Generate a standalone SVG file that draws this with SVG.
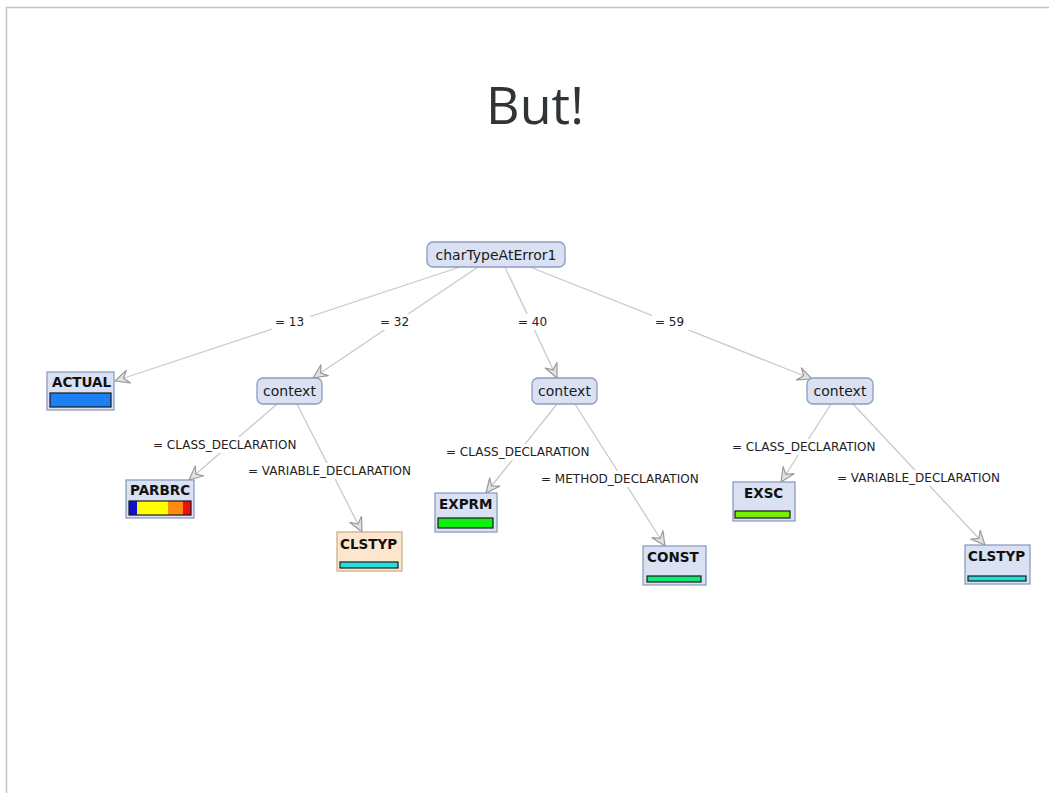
<svg xmlns="http://www.w3.org/2000/svg" width="1049" height="793" viewBox="0 0 1049 793">
<style>
.frame{fill:none;stroke:#c4c4c4;stroke-width:1.5}
.title{font-family:"Open Sans",sans-serif;font-size:52px;fill:#2f3437}
.edge{stroke:#c9c9c9;stroke-width:1.3;fill:none;marker-end:url(#arr)}
.lblbg{fill:#ffffff}
.lbl{font-family:"DejaVu Sans",sans-serif;font-size:12px;fill:#222}
.rnode{fill:#d9e1f3;stroke:#8d9cc0;stroke-width:1.3}
.leaf{fill:#d9e1f3;stroke:#8d9cc0;stroke-width:1.3}
.leafpeach{fill:#fde6cd;stroke:#c9b290;stroke-width:1.3}
.ntxt{font-family:"DejaVu Sans",sans-serif;font-size:14px;fill:#1a1a1a;text-anchor:middle}
.btxt{font-family:"DejaVu Sans",sans-serif;font-size:13.5px;font-weight:bold;fill:#111}
.bar{stroke:#1a1a1a;stroke-width:1.2}
</style>
<defs>
<marker id="arr" markerWidth="17" markerHeight="15" refX="15" refY="7.5" orient="auto" markerUnits="userSpaceOnUse">
<path d="M1,1 L15,7.5 L1,14 L6,7.5 Z" fill="#e2e2e2" stroke="#9a9a9a" stroke-width="1.2" stroke-linejoin="round"/>
</marker>
</defs>
<path class="frame" d="M6.5,793 L6.5,7.5 L1049,7.5"/>
<text class="title" x="535" y="124" text-anchor="middle">But!</text>
<g id="connectors">
<line class="edge" x1="460" y1="267" x2="115" y2="381"/>
<line class="edge" x1="478" y1="267" x2="313" y2="378"/>
<line class="edge" x1="505" y1="267" x2="557" y2="378"/>
<line class="edge" x1="530" y1="267" x2="812" y2="379"/>
<line class="edge" x1="277" y1="404" x2="189" y2="480"/>
<line class="edge" x1="297" y1="404" x2="362" y2="532"/>
<line class="edge" x1="557" y1="404" x2="486" y2="493"/>
<line class="edge" x1="575" y1="404" x2="665" y2="546"/>
<line class="edge" x1="831" y1="404" x2="781" y2="482"/>
<line class="edge" x1="853" y1="404" x2="985" y2="545"/>
<rect class="lblbg" x="272" y="314" width="38" height="16"/>
<text class="lbl" x="275" y="326">= 13</text>
<rect class="lblbg" x="377" y="314" width="38" height="16"/>
<text class="lbl" x="380" y="326">= 32</text>
<rect class="lblbg" x="515" y="314" width="38" height="16"/>
<text class="lbl" x="518" y="326">= 40</text>
<rect class="lblbg" x="652" y="314" width="38" height="16"/>
<text class="lbl" x="655" y="326">= 59</text>
<rect class="lblbg" x="151" y="437" width="150" height="16"/>
<text class="lbl" x="153" y="449">= CLASS_DECLARATION</text>
<rect class="lblbg" x="246" y="463" width="170" height="16"/>
<text class="lbl" x="248" y="475">= VARIABLE_DECLARATION</text>
<rect class="lblbg" x="444" y="444" width="150" height="16"/>
<text class="lbl" x="446" y="456">= CLASS_DECLARATION</text>
<rect class="lblbg" x="539" y="471" width="166" height="16"/>
<text class="lbl" x="541" y="483">= METHOD_DECLARATION</text>
<rect class="lblbg" x="730" y="439" width="150" height="16"/>
<text class="lbl" x="732" y="451">= CLASS_DECLARATION</text>
<rect class="lblbg" x="835" y="470" width="172" height="16"/>
<text class="lbl" x="837" y="482">= VARIABLE_DECLARATION</text>
</g>
<g id="root">
<rect class="rnode" x="427" y="242" width="138" height="25" rx="6"/>
<text class="ntxt" x="496" y="260" font-size="15">charTypeAtError1</text>
</g>
<g id="context1">
<rect class="rnode" x="257" y="378" width="65" height="26" rx="6"/>
<text class="ntxt" x="289.5" y="396">context</text>
</g>
<g id="context2">
<rect class="rnode" x="532" y="378" width="65" height="26" rx="6"/>
<text class="ntxt" x="564.5" y="396">context</text>
</g>
<g id="context3">
<rect class="rnode" x="807" y="378" width="66" height="26" rx="6"/>
<text class="ntxt" x="840" y="396">context</text>
</g>
<g id="actual">
<rect class="leaf" x="47" y="372" width="67" height="38"/>
<text class="btxt" x="52" y="387">ACTUAL</text>
<rect class="bar" x="50" y="393" width="61" height="14" fill="#1d80f2"/>
</g>
<g id="parbrc">
<rect class="leaf" x="126" y="480" width="68" height="38"/>
<text class="btxt" x="130" y="495">PARBRC</text>
<rect x="129" y="501" width="8" height="14" fill="#1010d0"/>
<rect x="137" y="501" width="31" height="14" fill="#ffff00"/>
<rect x="168" y="501" width="15" height="14" fill="#ff8c10"/>
<rect x="183" y="501" width="8" height="14" fill="#ee1010"/>
<rect class="bar" x="129" y="501" width="62" height="14" fill="none"/>
</g>
<g id="clstyp1">
<rect class="leafpeach" x="337" y="532" width="65" height="39"/>
<text class="btxt" x="340" y="549">CLSTYP</text>
<rect class="bar" x="340" y="562" width="58" height="6" fill="#22e0e0"/>
</g>
<g id="exprm">
<rect class="leaf" x="435" y="493" width="62" height="39"/>
<text class="btxt" x="439" y="509">EXPRM</text>
<rect class="bar" x="438" y="518" width="55" height="10" fill="#10ee10"/>
</g>
<g id="const">
<rect class="leaf" x="643" y="546" width="63" height="39"/>
<text class="btxt" x="647" y="562">CONST</text>
<rect class="bar" x="647" y="576" width="54" height="6" fill="#10e878"/>
</g>
<g id="exsc">
<rect class="leaf" x="733" y="482" width="62" height="39"/>
<text class="btxt" x="744" y="498">EXSC</text>
<rect class="bar" x="735" y="511" width="55" height="7" fill="#77ee00"/>
</g>
<g id="clstyp2">
<rect class="leaf" x="965" y="545" width="65" height="39"/>
<text class="btxt" x="968" y="561">CLSTYP</text>
<rect class="bar" x="968" y="576" width="58" height="5" fill="#22e0e0"/>
</g>
</svg>
